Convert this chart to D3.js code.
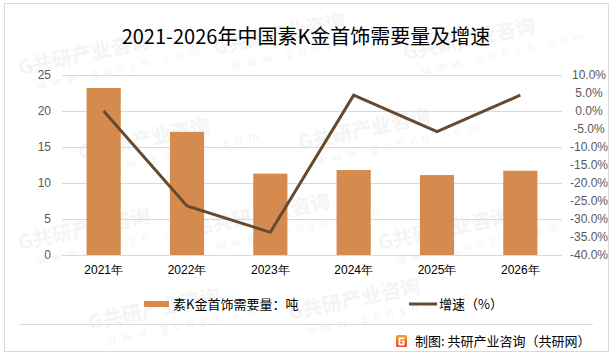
<!DOCTYPE html>
<html><head><meta charset="utf-8">
<script src="https://cdn.jsdelivr.net/npm/d3@7"></script>
<style>html,body{margin:0;padding:0;background:#fff;}svg{display:block;font-family:"Microsoft YaHei","Noto Sans CJK SC",sans-serif;}</style>
</head><body>
<svg id="c" width="616" height="356"></svg>
<script>
const years = ['2021年','2022年','2023年','2024年','2025年','2026年'];
const demand = [23.2, 17.1, 11.3, 11.8, 11.1, 11.7];
const growth = [0.0, -26.4, -33.7, 4.4, -5.7, 4.4];
const leftTicks = [0, 5, 10, 15, 20, 25];
const rightTicks = [10, 5, 0, -5, -10, -15, -20, -25, -30, -35, -40];
const title = '2021-2026年中国素K金首饰需要量及增速';
const legendBar = '素K金首饰需要量：吨';
const legendLine = '增速（%）';
const footer = '制图: 共研产业咨询（共研网）';
const watermark = 'G共研产业咨询';
const watermarkUrl = 'www.gonyn.com';

const svg = d3.select('#c');
const plot = {l: 62, r: 562, t: 75, b: 255};
const barColor = '#d48b4d', lineColor = '#654a30';

// faint watermarks (kept inside the frame)
const wm = svg.append('g').attr('fill', '#f4f4f4');
const wmPos = [[20,75],[215,55],[405,60],[80,160],[300,150],[20,250],[200,235],[380,250],[90,330],[290,320]];
wmPos.forEach(([x,y]) => {
  const g = wm.append('g').attr('transform', `translate(${x},${y}) rotate(-12)`);
  g.append('text').attr('font-size', 20).attr('font-weight', 'bold').text(watermark);
  g.append('text').attr('y', 18).attr('x', 14).attr('font-size', 12).attr('letter-spacing', 6).text(watermarkUrl);
});

// border
svg.append('rect').attr('x', 4.5).attr('y', 3.5).attr('width', 604).attr('height', 348)
  .attr('fill', 'none').attr('stroke', '#d9d9d9');

const x = d3.scaleBand().domain(years).range([plot.l, plot.r]).paddingInner(0.59).paddingOuter(0.295);
const yL = d3.scaleLinear().domain([0, 25]).range([plot.b, plot.t]);
const yR = d3.scaleLinear().domain([-40, 10]).range([plot.b, plot.t]);

// gridlines
svg.append('g').selectAll('line').data(leftTicks).join('line')
  .attr('x1', plot.l).attr('x2', plot.r)
  .attr('y1', d => Math.round(yL(d)) + 0.5).attr('y2', d => Math.round(yL(d)) + 0.5)
  .attr('stroke', '#d9d9d9').attr('stroke-width', 1);

// left axis
const axL = svg.append('g').attr('transform', `translate(${plot.l},0)`)
  .call(d3.axisLeft(yL).tickValues(leftTicks).tickSize(0).tickPadding(11));
axL.select('.domain').remove();
axL.selectAll('text').attr('font-size', 12).attr('fill', '#595959').attr('font-family', 'inherit');

// right axis
const axR = svg.append('g').attr('transform', `translate(${plot.r},0)`)
  .call(d3.axisRight(yR).tickValues(rightTicks).tickSize(0).tickPadding(27).tickFormat(d => d.toFixed(1) + '%'));
axR.select('.domain').remove();
axR.selectAll('text').attr('font-size', 12).attr('fill', '#595959').attr('text-anchor', 'middle').attr('font-family', 'inherit');

// x axis
const axX = svg.append('g').attr('transform', `translate(0,${plot.b})`)
  .call(d3.axisBottom(x).tickSize(0).tickPadding(10));
axX.select('.domain').remove();
axX.selectAll('text').attr('font-size', 12).attr('fill', '#000').attr('font-family', 'inherit');

// bars
svg.append('g').selectAll('rect').data(demand).join('rect')
  .attr('x', (d, i) => x(years[i])).attr('width', x.bandwidth())
  .attr('y', d => yL(d)).attr('height', d => yL(0) - yL(d))
  .attr('fill', barColor);

// line
const line = d3.line().x((d, i) => x(years[i]) + x.bandwidth() / 2).y(d => yR(d));
svg.append('path').datum(growth).attr('d', line)
  .attr('fill', 'none').attr('stroke', lineColor).attr('stroke-width', 3).attr('stroke-linejoin', 'miter');

// title
svg.append('text').attr('x', 306).attr('y', 44).attr('text-anchor', 'middle')
  .attr('font-size', 20).attr('fill', '#000').text(title);

// legend
svg.append('rect').attr('x', 144).attr('y', 301).attr('width', 25).attr('height', 6).attr('fill', barColor);
svg.append('text').attr('x', 173).attr('y', 309).attr('font-size', 13).attr('fill', '#000').text(legendBar);
svg.append('line').attr('x1', 409).attr('x2', 437).attr('y1', 304).attr('y2', 304)
  .attr('stroke', lineColor).attr('stroke-width', 3);
svg.append('text').attr('x', 439).attr('y', 309).attr('font-size', 13).attr('fill', '#000').text(legendLine);

// footer separator
svg.append('line').attr('x1', 19).attr('x2', 593).attr('y1', 324.5).attr('y2', 324.5)
  .attr('stroke', '#d9d9d9');

// footer icon
const defs = svg.append('defs');
const grad = defs.append('linearGradient').attr('id', 'lg').attr('x1', 0).attr('y1', 0).attr('x2', 0).attr('y2', 1);
grad.append('stop').attr('offset', '0%').attr('stop-color', '#f7a21b');
grad.append('stop').attr('offset', '100%').attr('stop-color', '#e8432a');
svg.append('rect').attr('x', 396).attr('y', 335).attr('width', 11).attr('height', 12).attr('rx', 1.5).attr('fill', 'url(#lg)');
svg.append('path').attr('d', 'M398.5,337.5 h6 v1.8 h-4.2 v4.4 h2.4 v-1.6 h-1.2 v-1.6 h3 v5 h-6 z').attr('fill', '#fff');
svg.append('text').attr('x', 415).attr('y', 346).attr('font-size', 13).attr('fill', '#000').text(footer);
</script>
</body></html>
